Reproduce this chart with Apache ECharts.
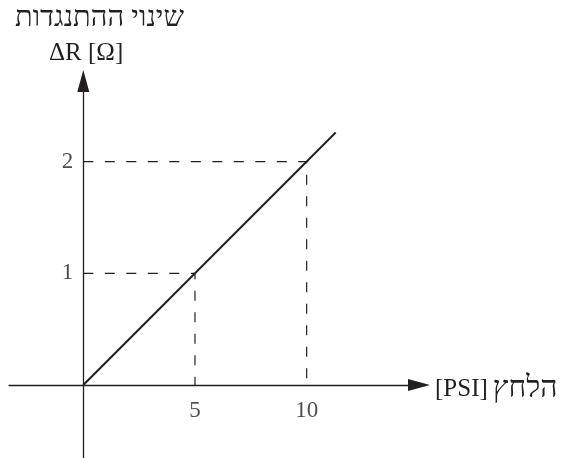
<!DOCTYPE html>
<html>
<head>
<meta charset="utf-8">
<script src="https://cdn.jsdelivr.net/npm/echarts@6/dist/echarts.min.js"></script>
<style>
  html, body { margin: 0; padding: 0; background: #fff; }
  #chart { width: 561px; height: 458px; }
</style>
</head>
<body>
<div id="chart"></div>
<script>
// Pressure vs. resistance change: a straight line through the origin
const xTickValues = [5, 10];
const yTickValues = [1, 2];
const responseLine = [[0, 0], [11.3, 2.26]];
const readoutPoints = [[5, 1], [10, 2]];

const yTitle = 'שינוי ההתנגדות';
const yUnit = 'ΔR [Ω]';
const xUnit = '[PSI]';
const xTitle = 'הלחץ';

const ink = '#231f20';
const serif = '"Liberation Serif", "Times New Roman", serif';

// Dashed guide lines from each readout point to both axes
const guideSeries = [];
readoutPoints.forEach(function (p) {
  guideSeries.push({
    type: 'line',
    data: [[0, p[1]], p, [p[0], 0]],
    symbol: 'none',
    silent: true,
    lineStyle: { color: ink, width: 1.2, type: [10, 11.5] },
    z: 2
  });
});

// Tick labels sit beside the crossing axes, so they are placed as
// invisible points on each axis carrying a text label.
const tickLabelStyle = { fontFamily: serif, fontSize: 23, color: ink };
const xTickSeries = {
  type: 'scatter',
  data: xTickValues.map(function (v) { return [v, 0]; }),
  symbolSize: 0,
  silent: true,
  label: Object.assign({ show: true, position: 'bottom', distance: 14, formatter: function (p) { return String(p.value[0]); } }, tickLabelStyle)
};
const yTickSeries = {
  type: 'scatter',
  data: yTickValues.map(function (v) { return [0, v]; }),
  symbolSize: 0,
  silent: true,
  label: Object.assign({ show: true, position: 'left', distance: 10, formatter: function (p) { return String(p.value[1]); } }, tickLabelStyle)
};

const chart = echarts.init(document.getElementById('chart'));
chart.setOption({
  animation: false,
  backgroundColor: '#fff',
  title: [
    { text: yTitle, left: 10, top: -1, textStyle: { fontFamily: serif, fontSize: 29, fontWeight: 'normal', color: ink } },
    { text: yUnit, left: 44, top: 36, textStyle: { fontFamily: serif, fontSize: 25, fontWeight: 'normal', color: ink } },
    {
      text: '{u|' + xUnit + '} {h|' + xTitle + '}',
      left: 430, top: 369,
      textStyle: {
        fontWeight: 'normal',
        rich: {
          u: { fontFamily: serif, fontSize: 25, fontWeight: 'normal', color: ink },
          h: { fontFamily: serif, fontSize: 30, fontWeight: 'normal', color: ink }
        }
      }
    }
  ],
  grid: { left: 9, right: 142, top: 81, bottom: 0, containLabel: false, outerBoundsMode: 'none' },
  xAxis: {
    type: 'value',
    min: -3.327,
    max: 15.03,
    splitLine: { show: false },
    axisTick: { show: false },
    axisLabel: { show: false },
    axisLine: {
      onZero: true,
      lineStyle: { color: ink, width: 1.3 },
      symbol: ['none', 'triangle'],
      symbolSize: [12, 22]
    }
  },
  yAxis: {
    type: 'value',
    min: -0.6535,
    max: 2.7216,
    splitLine: { show: false },
    axisTick: { show: false },
    axisLabel: { show: false },
    axisLine: {
      onZero: true,
      lineStyle: { color: ink, width: 1.3 },
      symbol: ['none', 'triangle'],
      symbolSize: [12, 22]
    }
  },
  series: guideSeries.concat([{
    type: 'line',
    data: responseLine,
    symbol: 'none',
    silent: true,
    lineStyle: { color: ink, width: 2 },
    z: 3
  }, xTickSeries, yTickSeries])
});
</script>
</body>
</html>
